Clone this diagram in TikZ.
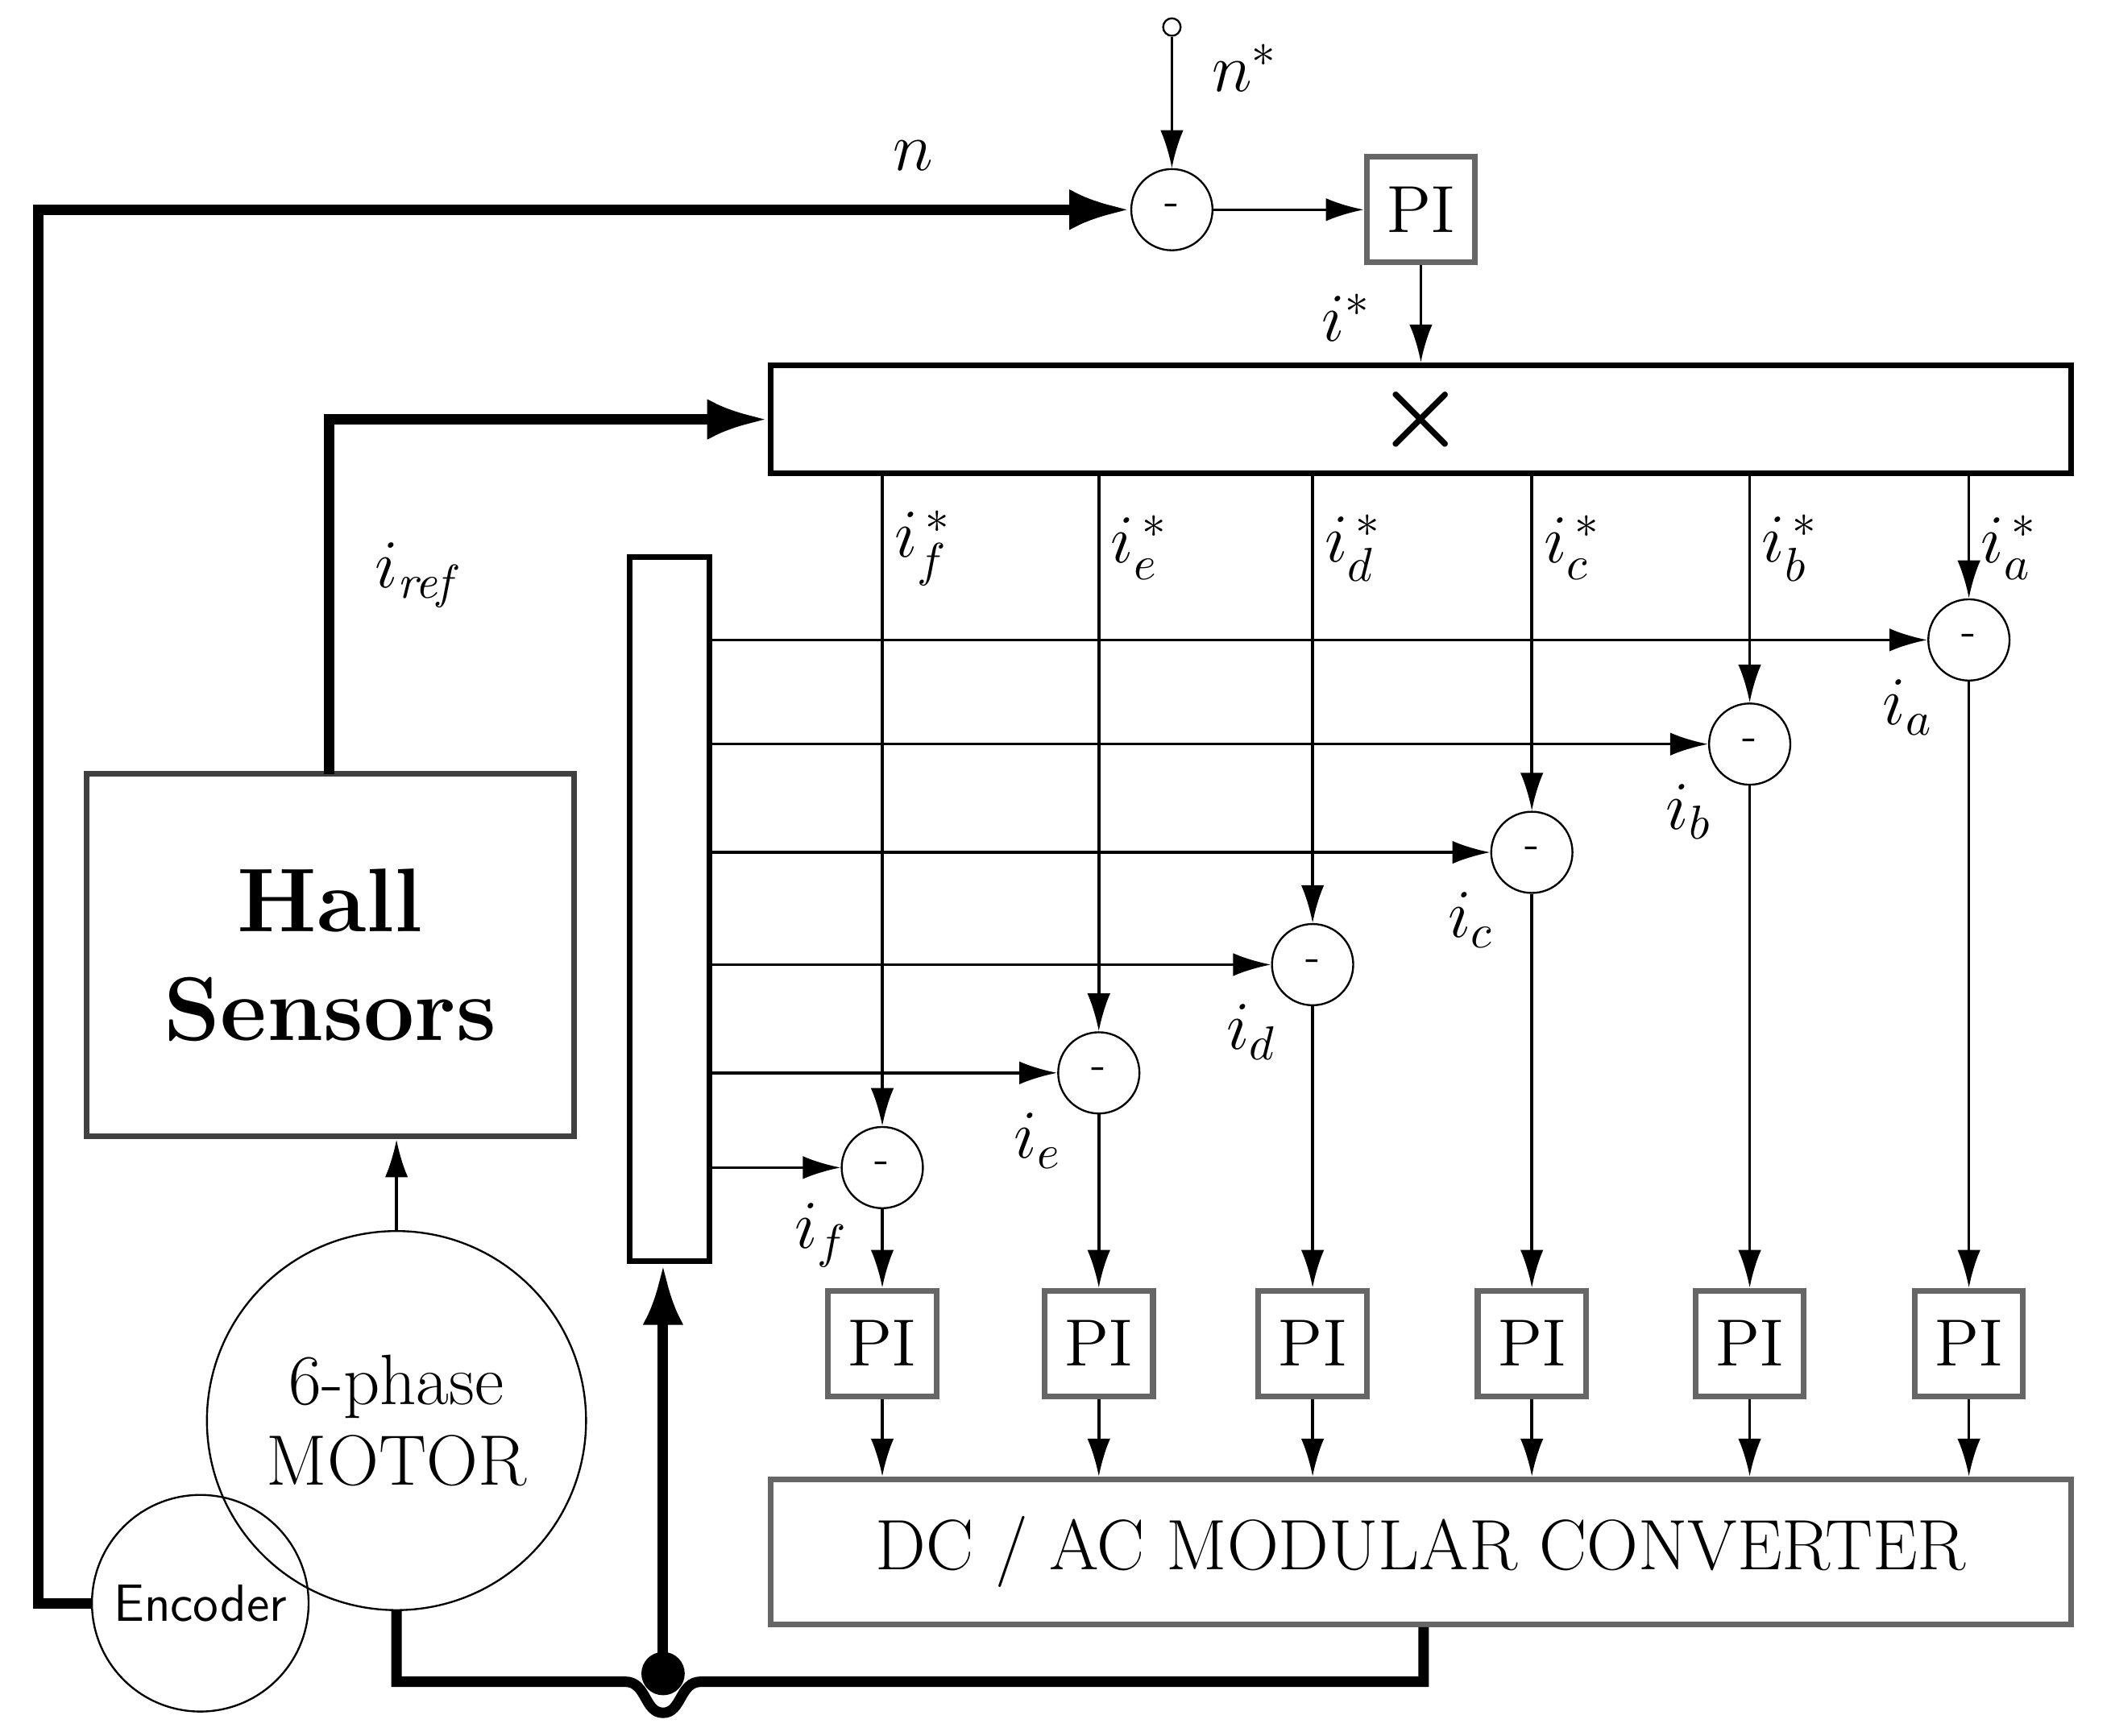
\documentclass[tikz,border=0pt]{standalone}
\usepackage{amsmath,amssymb}
\usetikzlibrary{arrows.meta}
\tikzset{
  sum/.style={draw,circle,minimum size=0.6cm,inner sep=0pt,font=\small},
  pi/.style={draw=black!60,line width=1.2pt,minimum width=0.8cm,minimum height=0.78cm,inner sep=0pt,font=\fontsize{14}{14}\selectfont},
  thin arrow/.style={-{Latex[length=0.28cm,width=0.17cm]},line width=0.6pt},
  bus/.style={line width=2.2pt},
  bus arrow/.style={bus,-{Latex[length=0.45cm,width=0.3cm]}},
  lab/.style={font=\fontsize{14}{14}\selectfont}
}
\begin{document}
\begin{tikzpicture}[x=0.01cm,y=-0.01cm]
        \useasboundingbox (0,0) rectangle (1560,1283);
        % speed loop
        \node[draw,circle,inner sep=1.3pt] (in) at (866,20) {};
        \node[sum] (sn) at (866,155) {-};
        \node[pi] (pin) at (1050,155) {PI};
        \node[lab] at (920,50) {$n^{*}$};
        \node[lab] at (675,115) {$n$};
        \node[lab] at (995,235) {$i^{*}$};
        \draw[thin arrow] (in) -- (sn);
        \draw[thin arrow] (sn) -- (pin);
        \node[draw,line width=1.2pt,minimum width=9.6cm,minimum height=0.8cm] (mul) at (1050,310) {\fontsize{22}{22}\selectfont$\boldsymbol{\times}$};
        \draw[thin arrow] (pin) -- (pin|-mul.north);
        % motor side
        \node[draw=black!75,line width=1.2pt,minimum width=3.6cm,minimum height=2.68cm,align=center,font=\fontsize{19}{23}\selectfont\bfseries] (hall) at (244,706) {Hall\\Sensors};
        \node[draw,circle,minimum size=2.8cm,align=center,font=\fontsize{15}{17}\selectfont] (motor) at (293,1050) {6-phase\\MOTOR};
        \node[draw,circle,minimum size=1.6cm,font=\sffamily\fontsize{11}{11}\selectfont] (enc) at (148,1185) {Encoder};
        \node[draw,line width=1.2pt,minimum width=0.59cm,minimum height=5.2cm] (bar) at (495,672) {};
        \node[draw=black!60,line width=1.2pt,minimum width=9.6cm,minimum height=1.07cm,font=\fontsize{15}{15}\selectfont] (conv) at (1050,1147) {DC / AC MODULAR CONVERTER};
        \node[lab] at (310,425) {$i_{\mathit{ref}}$};
        \coordinate (dot) at (490,1237);
        \draw[thin arrow] (motor.north) -- (motor.north|-hall.south);
        \draw[bus arrow] (243,572) |- (mul.west);
        \draw[bus arrow] (enc.west) -| (28,155) -- (sn.west);
        \draw[bus] (motor.south) |- (462,1243) .. controls (478,1243) and (476,1266) .. (490,1266)
              .. controls (504,1266) and (502,1243) .. (518,1243) -| (conv.south-|1052,0);
        \fill (dot) circle (0.16cm);
        \draw[bus arrow] (dot) -- (bar.south-|dot);
        % current loops
        \foreach \nm/\x/\y in {f/652/863,e/812/793,d/970/713,c/1132/630,b/1293/550,a/1455/473}{
          \node[sum] (s\nm) at (\x,\y) {-};
          \node[pi] (p\nm) at (\x,993) {PI};
          \node[lab] at (\x+30,405) {$i_{\nm}^{\,*}$};
          \node[lab] at (\x-45,\y+50) {$i_{\nm}$};
          \draw[thin arrow] (mul.south-|s\nm) -- (s\nm);
          \draw[thin arrow] (bar.east|-s\nm) -- (s\nm);
          \draw[thin arrow] (s\nm) -- (p\nm);
          \draw[thin arrow] (p\nm) -- (conv.north-|p\nm);
        }
\end{tikzpicture}
\end{document}
